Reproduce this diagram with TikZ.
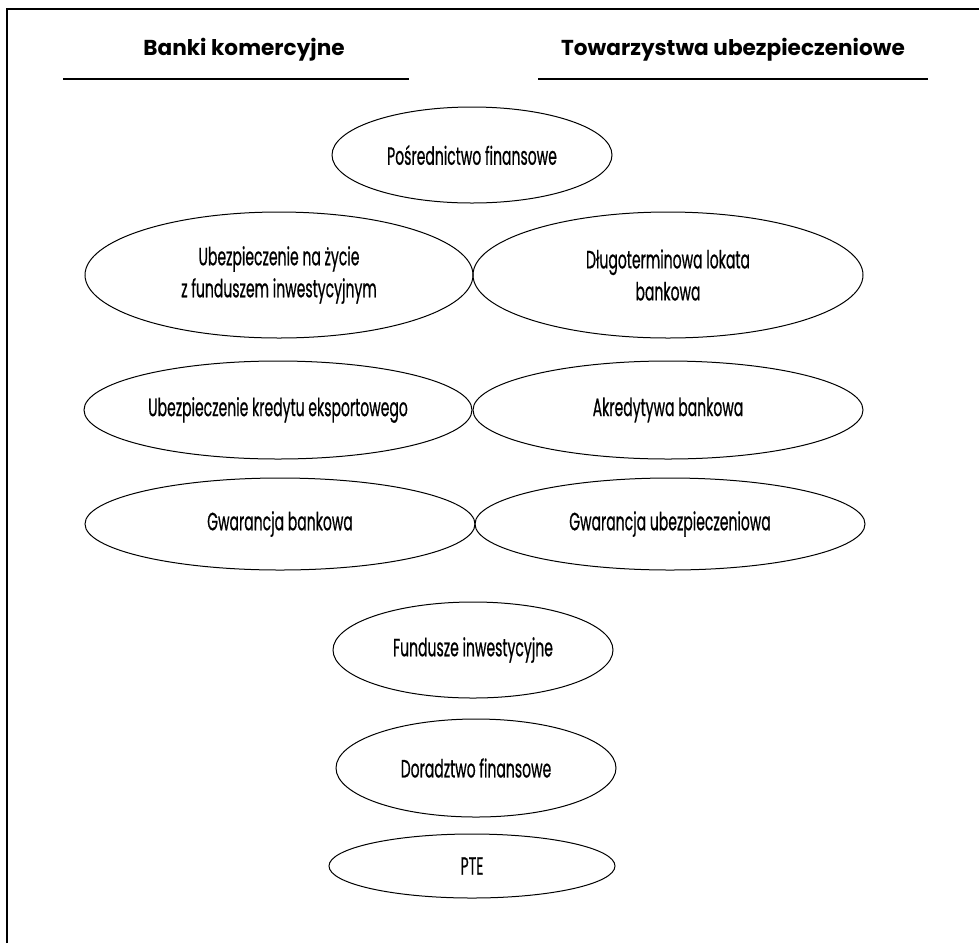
\documentclass[tikz,border=0pt]{standalone}
\usepackage{fontspec}
\setmainfont{Poppins}
\newfontfamily\narrowfont[FakeStretch=0.56,FakeBold=0.6]{Poppins}
\usetikzlibrary{shapes.geometric}
\begin{document}
\begin{tikzpicture}[x=0.5pt,y=-0.5pt,
    oval/.style={ellipse, draw, line width=0.5pt, inner sep=0pt, align=center,
      font=\narrowfont\fontsize{12.5}{16}\selectfont},
    head/.style={font=\bfseries\fontsize{10.8}{14}\selectfont}]
  \useasboundingbox (0,0) rectangle (979,943);
  % frame
  \draw[line width=1pt] (7,943) -- (7,9) -- (979,9);
  % headings
  \node[head] (banki) at (244,50) {Banki komercyjne};
  \node[head] (tow) at (733,50) {Towarzystwa ubezpieczeniowe};
  \draw[line width=0.7pt] (63,79) -- (409,79);
  \draw[line width=0.7pt] (538,79) -- (928,79);
  % ovals
  \node[oval, minimum width=140pt, minimum height=48pt] (posr) at (472,155) {Pośrednictwo finansowe};
  \node[oval, minimum width=194pt, minimum height=63pt] (zycie) at (279,275) {Ubezpieczenie na życie\\z funduszem inwestycyjnym};
  \node[oval, minimum width=195pt, minimum height=63pt] (lokata) at (668,275) {Długoterminowa lokata\\bankowa};
  \node[oval, minimum width=194pt, minimum height=49pt] (kredyt) at (278,410) {Ubezpieczenie kredytu eksportowego};
  \node[oval, minimum width=195pt, minimum height=49pt] (akred) at (668,410) {Akredytywa bankowa};
  \node[oval, minimum width=195pt, minimum height=46pt] (gwbank) at (280,524) {Gwarancja bankowa};
  \node[oval, minimum width=195pt, minimum height=46pt] (gwubez) at (670,524) {Gwarancja ubezpieczeniowa};
  \node[oval, minimum width=140pt, minimum height=48pt] (fund) at (473,650) {Fundusze inwestycyjne};
  \node[oval, minimum width=140pt, minimum height=49pt] (dorad) at (476,768) {Doradztwo finansowe};
  \node[oval, minimum width=143pt, minimum height=32pt] (pte) at (472,866) {PTE};
\end{tikzpicture}
\end{document}
